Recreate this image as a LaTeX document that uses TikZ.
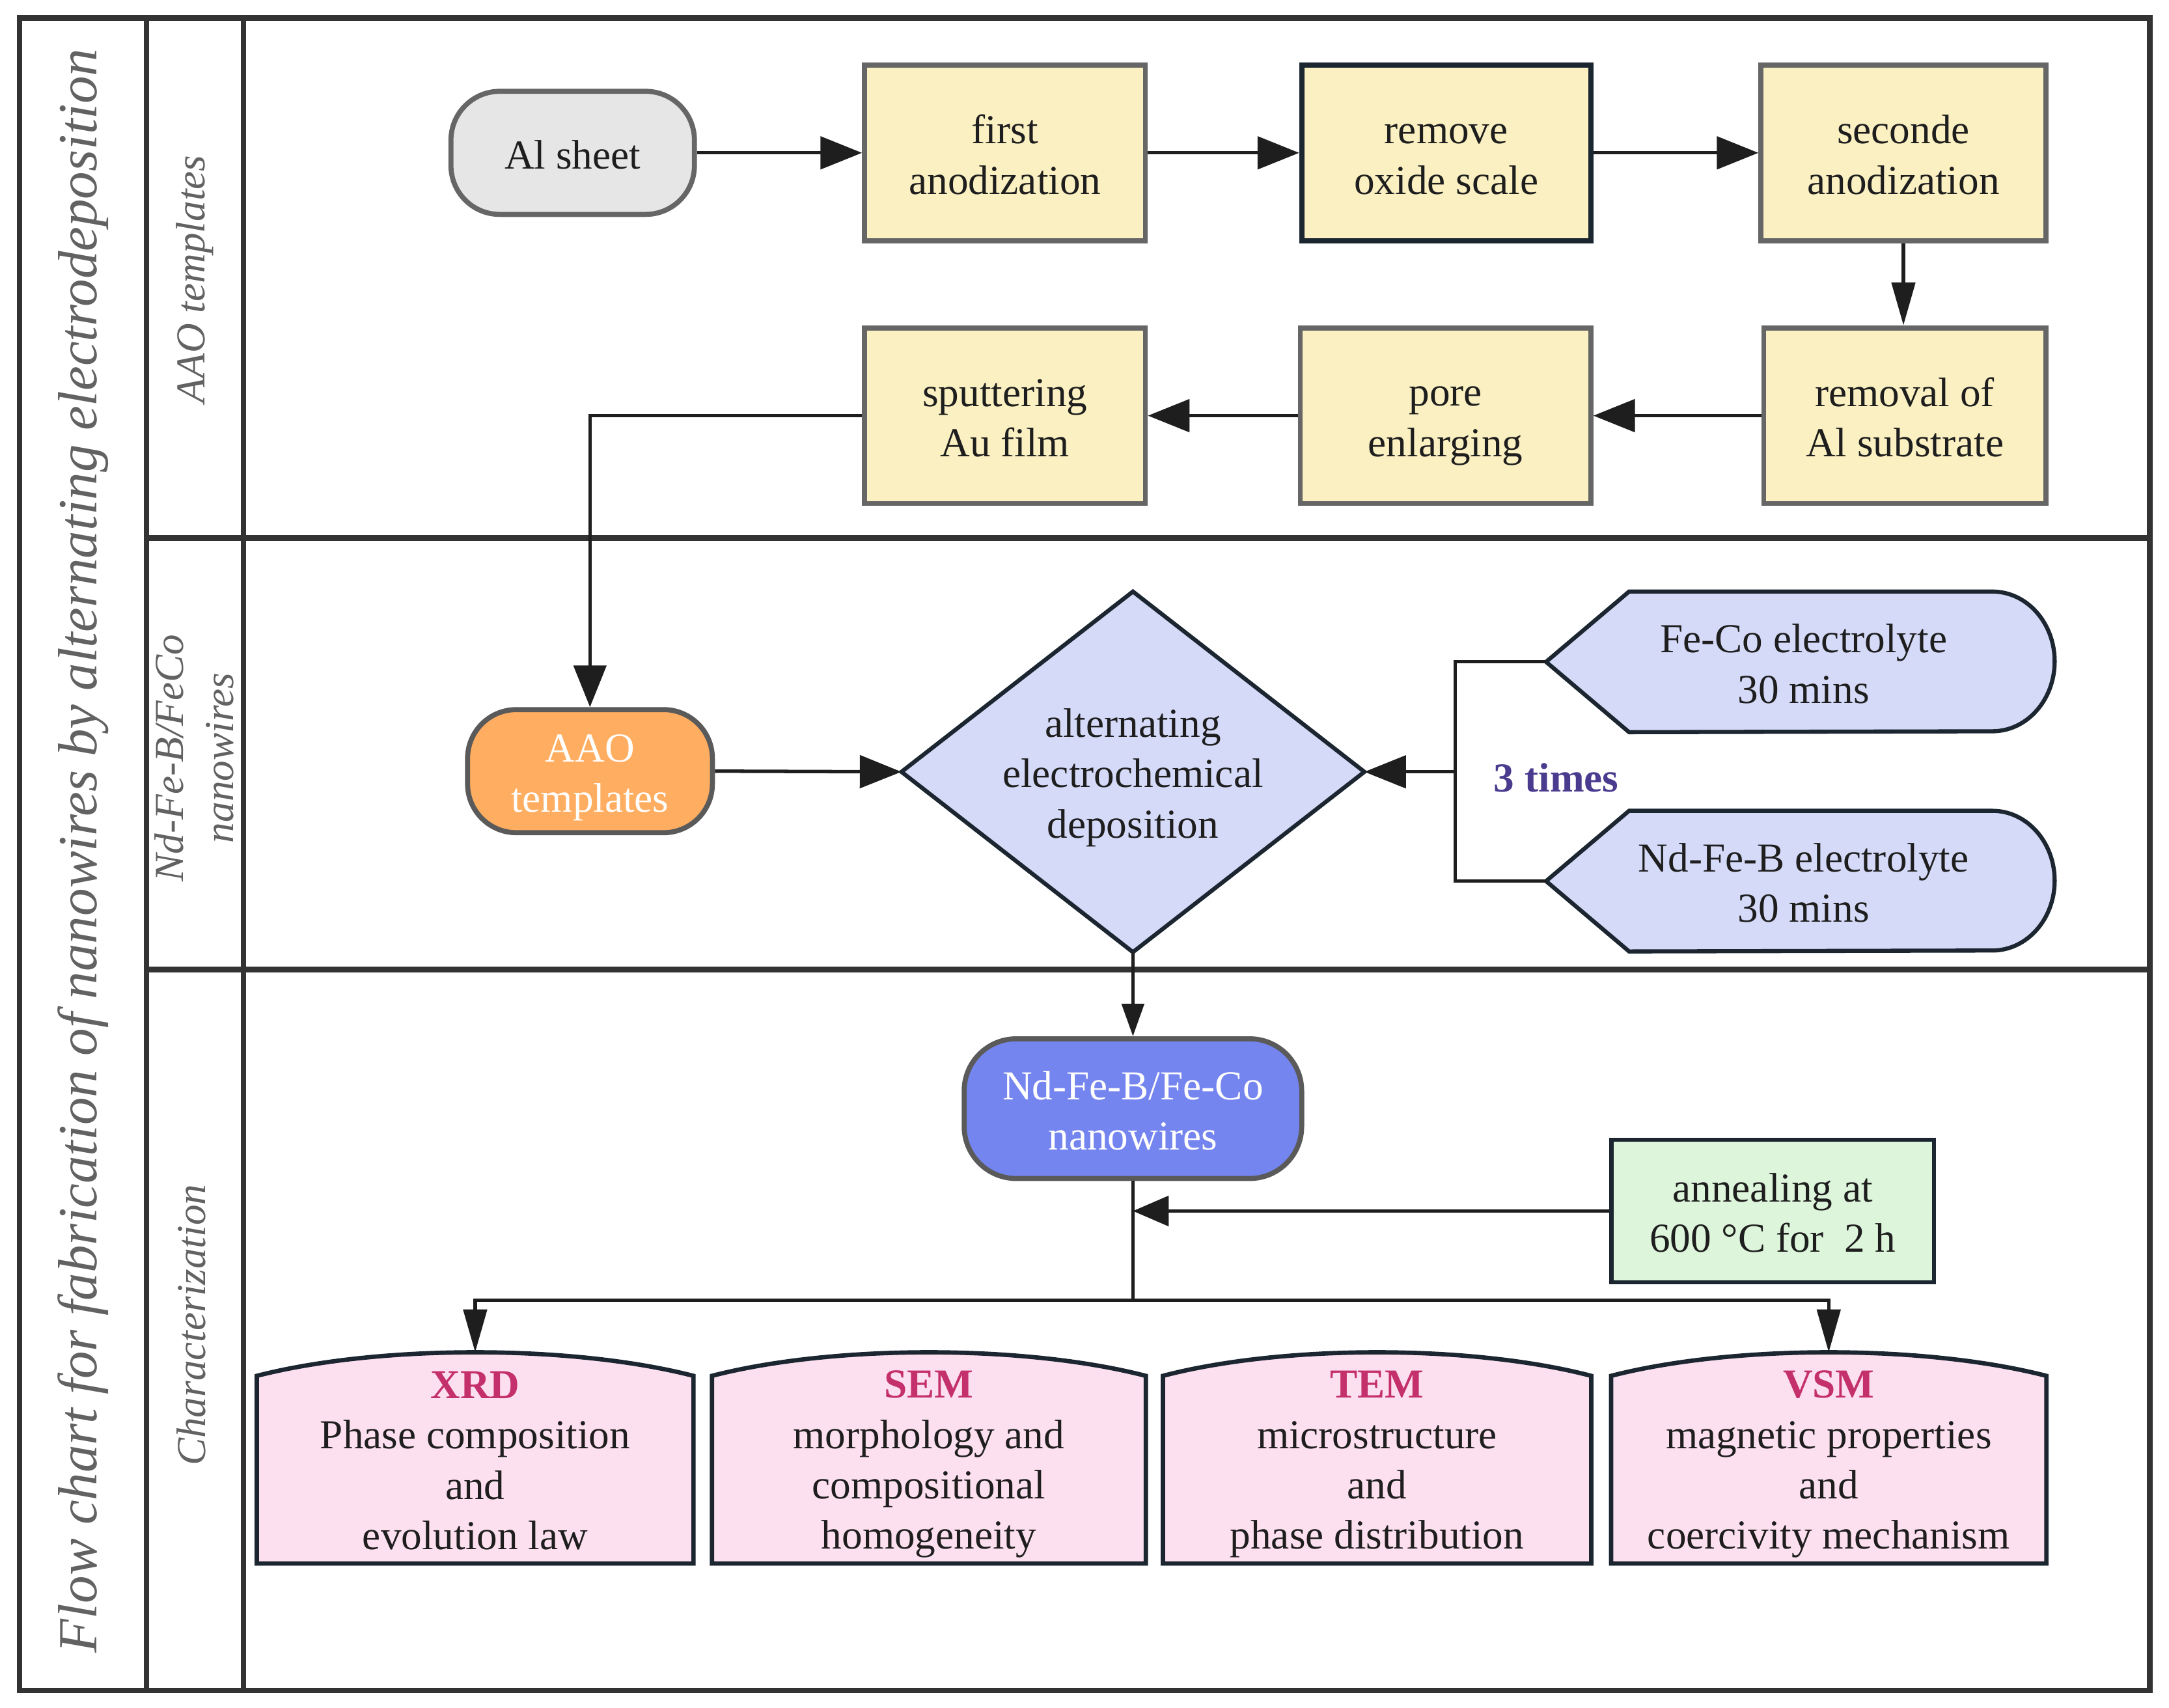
\documentclass[tikz,border=0pt]{standalone}
\usepackage{fontspec}
\setmainfont{Liberation Serif}
\usetikzlibrary{arrows.meta,calc,backgrounds}
\definecolor{yel}{HTML}{FAF0C2}
\definecolor{boxgray}{HTML}{666666}
\definecolor{dk}{HTML}{1B2631}
\definecolor{algray}{HTML}{E6E6E6}
\definecolor{orng}{HTML}{FFAD60}
\definecolor{lav}{HTML}{D5DAF8}
\definecolor{blu}{HTML}{7585EF}
\definecolor{grn}{HTML}{DDF5DB}
\definecolor{pnk}{HTML}{FDE0EF}
\definecolor{mag}{HTML}{C4306B}
\definecolor{purp}{HTML}{4B3B8F}
\definecolor{ttl}{HTML}{626262}
\definecolor{frm}{HTML}{333333}
\definecolor{ln}{HTML}{1E1E1E}
\definecolor{mid}{HTML}{5A5A5A}
\def\dU{0.02125cm}
\newcommand\fs{\rule{0pt}{17.5pt}}
\newcommand\archbox[1]{\draw[pinkshape] (#1.south west) -- ($(#1.north west)+(0,17)$)
  .. controls ($(#1.north west)!0.28!(#1.north east)+(0,-5.7)$) and ($(#1.north west)!0.72!(#1.north east)+(0,-5.7)$)
  .. ($(#1.north east)+(0,17)$) -- (#1.south east) -- cycle;}
\newcommand\dispbox[1]{\draw[lavshape] (#1.west) -- ($(#1.north west)+(60,0)$) -- ($(#1.north east)+(-45,0)$)
  arc[start angle=-90, end angle=90, x radius=45, y radius=50.5] -- ($(#1.south west)+(60,0)$) -- cycle;}
\begin{document}
\begin{tikzpicture}[x=0.02125cm,y=-0.02125cm,
  every node/.style={font=\fontsize{18}{22}\selectfont, text=ln, align=center, inner sep=0pt,
    execute at end node={\rule[-3.5pt]{0pt}{0pt}}},
  plain/.style={execute at end node={}},
  frame/.style={draw=frm, line width=2.4pt},
  ybox/.style={draw=boxgray, fill=yel, line width=2.2pt, minimum height=127*\dU},
  lanelab/.style={plain, rotate=90, text=ttl, font=\fontsize{18}{22}\selectfont\itshape},
  pinkshape/.style={draw=dk, fill=pnk, line width=1.9pt},
  lavshape/.style={draw=dk, fill=lav, line width=1.8pt},
  conn/.style={draw=ln, line width=1.5pt},
  arr/.style={conn, -{Triangle[length=0.64cm,width=0.5cm]}},
  varr/.style={conn, -{Triangle[length=0.66cm,width=0.36cm]}},
  sarr/.style={conn, -{Triangle[length=0.5cm,width=0.34cm]}},
  aarr/.style={conn, -{Triangle[length=0.55cm,width=0.46cm]}}
]
\useasboundingbox (0,0) rectangle (1568,1234.8);
% frame
\draw[frame] (14,13) rectangle (1554,1222);
\draw[frame] (106,13) -- (106,1222);
\draw[frame] (176,13) -- (176,1222);
\draw[frame] (106,389) -- (1554,389);
\draw[frame] (106,701) -- (1554,701);
\node[plain, rotate=90, text=ttl, font=\fontsize{24.2}{28}\selectfont\itshape] (title) at (60,615)
  {Flow chart for fabrication of nanowires by alternating electrodeposition};
\node[lanelab] (lab1) at (141,202) {AAO templates};
\node[lanelab] (lab2) at (143,548) {Nd-Fe-B/FeCo\\nanowires};
\node[lanelab] (lab3) at (141,958) {Characterization};
% lane 1
\node[draw=boxgray, fill=algray, line width=2.2pt, rounded corners=0.75cm,
  minimum width=176*\dU, minimum height=89*\dU] (al) at (414,110.5) {\fs Al sheet};
\node[ybox, minimum width=203*\dU] (first) at (726.5,110.5) {\fs first\\anodization};
\node[ybox, draw=dk, minimum width=209*\dU] (remove) at (1045.5,110.5) {\fs remove\\oxide scale};
\node[ybox, minimum width=206*\dU] (seconde) at (1376,110.5) {\fs seconde\\anodization};
\node[ybox, minimum width=204*\dU] (removal) at (1377,300.5) {\fs removal of\\Al substrate};
\node[ybox, minimum width=210*\dU] (pore) at (1045,300.5) {\fs pore\\enlarging};
\node[ybox, minimum width=203*\dU] (sputter) at (726.5,300.5) {\fs sputtering\\Au film};
\draw[arr] (al.east) -- (first.west);
\draw[arr] (first.east) -- (remove.west);
\draw[arr] (remove.east) -- (seconde.west);
\draw[varr] (seconde.south) -- (seconde.south |- removal.north);
\draw[arr] (removal.west) -- (pore.east);
\draw[arr] (pore.west) -- (sputter.east);
% lane 2
\node[draw=mid, fill=orng, line width=2.2pt, rounded corners=0.75cm, text=white,
  minimum width=177*\dU, minimum height=89*\dU] (aao) at (426.5,557.5) {\fs AAO\\templates};
\node[minimum width=334*\dU, minimum height=260*\dU] (dep) at (819,558) {\fs alternating\\electrochemical\\deposition};
\node[minimum width=367*\dU, minimum height=101*\dU] (feco) at (1301.5,478.5) {\fs\hspace*{0.1cm}Fe-Co electrolyte\\\hspace*{0.1cm}30 mins};
\node[minimum width=367*\dU, minimum height=101*\dU] (ndfeb) at (1301.5,637) {\fs\hspace*{0.1cm}Nd-Fe-B electrolyte\\\hspace*{0.1cm}30 mins};
\begin{scope}[on background layer]
  \draw[lavshape] (dep.west) -- (dep.north) -- (dep.east) -- (dep.south) -- cycle;
  \dispbox{feco}
  \dispbox{ndfeb}
\end{scope}
\coordinate (jn) at (1052,558);
\draw[conn] (feco.west) -| (jn);
\draw[conn] (ndfeb.west) -| (jn);
\draw[arr] (jn) -- (dep.east);
\node[text=purp, font=\fontsize{18}{22}\selectfont\bfseries] (times) at (1125,561) {\fs 3 times};
\draw[arr] (sputter.west) -| (aao.north);
\draw[arr] (aao.east) -- (dep.west);
% lane 3
\node[draw=mid, fill=blu, line width=2.2pt, rounded corners=0.8cm, text=white,
  minimum width=244*\dU, minimum height=101*\dU] (nw) at (819,801.5) {\fs Nd-Fe-B/Fe-Co\\nanowires};
\draw[sarr] (dep.south) -- (nw.north);
\node[draw=dk, fill=grn, line width=1.8pt, minimum width=233*\dU, minimum height=103*\dU] (anneal)
  at (1281.5,875.5) {\fs annealing at\\600 °C for\ \ 2 h};
\node[minimum width=315*\dU, minimum height=152*\dU] (xrd) at (343.5,1054)
  {\fs\textcolor{mag}{\textbf{XRD}}\\Phase composition\\and\\evolution law};
\node[minimum width=313*\dU, minimum height=152*\dU] (sem) at (671.5,1054)
  {\fs\textcolor{mag}{\textbf{SEM}}\\morphology and\\compositional\\homogeneity};
\node[minimum width=309*\dU, minimum height=152*\dU] (tem) at (995.5,1054)
  {\fs\textcolor{mag}{\textbf{TEM}}\\microstructure\\and\\phase distribution};
\node[minimum width=314*\dU, minimum height=152*\dU] (vsm) at (1322,1054)
  {\fs\textcolor{mag}{\textbf{VSM}}\\magnetic properties\\and\\coercivity mechanism};
\begin{scope}[on background layer]
  \archbox{xrd}
  \archbox{sem}
  \archbox{tem}
  \archbox{vsm}
\end{scope}
\coordinate (br) at (819,940);
\draw[conn] (nw.south) -- (br);
\draw[varr] (br) -| (xrd.north);
\draw[varr] (br) -| (vsm.north);
\draw[aarr] (anneal.west) -- (nw.south |- anneal.west);
\end{tikzpicture}
\end{document}
